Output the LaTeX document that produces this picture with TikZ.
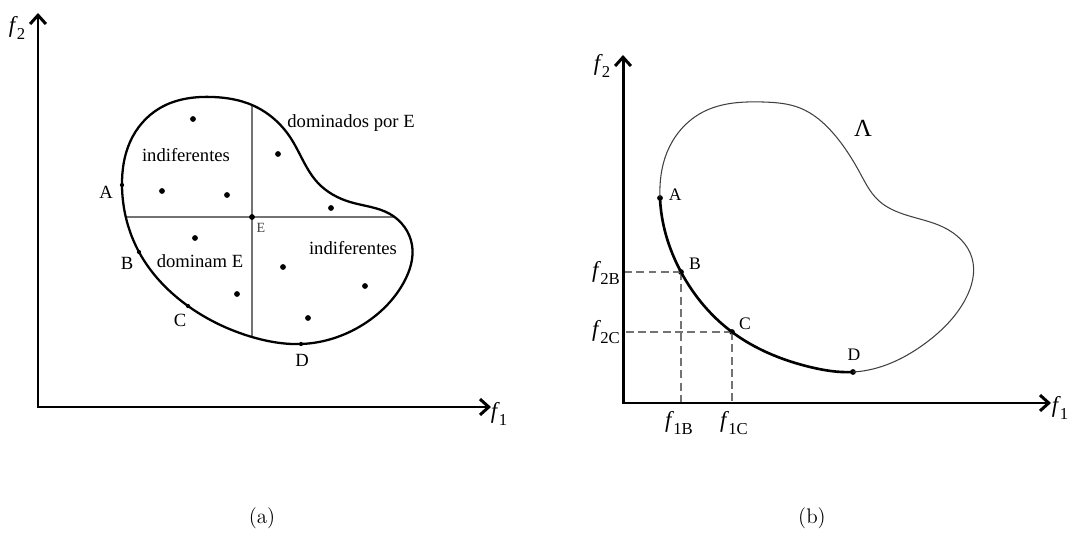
\documentclass[tikz,border=0pt]{standalone}
\usepackage{fontspec}
\newfontfamily\figfont{Liberation Serif}
\usetikzlibrary{positioning,arrows.meta,hobby}

% italic f with an upright index
\newcommand{\fv}[1]{\textit{f}\kern-0.04em\raisebox{-0.6ex}{\fontsize{9.5}{11}\selectfont #1}}

\begin{document}
\begin{tikzpicture}[
	x=0.02cm, y=-0.02cm,
	font=\figfont\fontsize{10.6}{12.5}\selectfont,
	axis/.style={
		line width=1.7pt,
		line join=miter,
		{Straight Barb[length=5pt,width=9pt]}-{Straight Barb[length=5pt,width=9pt]}
	},
	region/.style={line width=1.3pt},
	lambdaset/.style={draw=black!75, line width=0.6pt},
	front/.style={line width=1.5pt},
	divider/.style={draw=black!55, line width=0.7pt},
	guide/.style={draw=black!55, line width=0.7pt, dash pattern=on 4.5pt off 2.5pt},
	dot/.style={circle, fill=black, inner sep=0pt, minimum size=3.3pt},
	ptlabel/.style={inner sep=1pt},
	axlabel/.style={inner sep=0pt, font=\figfont\fontsize{13}{15}\selectfont},
	caption/.style={font=\rmfamily\fontsize{12}{14}\selectfont}
	]
	
	\useasboundingbox (0,0) rectangle (1072,547);
	
	%% (a)
	\def\regionA{plot[closed hobby] coordinates {
		(213,97) (160,108) (130,142) (122,185) (139,252) (188,306) (252,337)
		(301,344) (367,322) (404,282) (412,245) (390,214) (350,202) (318,183)
		(290,137) (252,105)}}
	
	\coordinate (oa) at (38,407);
	\coordinate (ya) at (38,13);
	\coordinate (xa) at (491,407);
	\draw[axis] (ya) -- (oa) -- (xa);
	\node[axlabel] (f2a) at (17,28) {\fv{2}};
	\node[axlabel] (f1a) at (499,414) {\fv{1}};
	
	\coordinate (E) at (252,217);
	\begin{scope}
		\clip \regionA;
		\draw[divider] (E) -- +(-160,0);
		\draw[divider] (E) -- +(190,0);
		\draw[divider] (E) -- +(0,-140);
		\draw[divider] (E) -- +(0,150);
	\end{scope}
	\draw[region] \regionA;
	\node[dot] (Edot) at (E) {};
	
	\foreach \x/\y [count=\i] in {193/119, 162/191, 227/195, 278/154, 331/208,
		195/238, 283/267, 237/294, 365/286, 308/318}
	\node[dot] (sol\i) at (\x,\y) {};
	
	\node[dot, minimum size=2.4pt] (Aa) at (122,185) {};
	\node[dot, minimum size=2.4pt] (Ba) at (139,252) {};
	\node[dot, minimum size=2.4pt] (Ca) at (188,306) {};
	\node[dot, minimum size=2.4pt] (Da) at (301,344) {};
	
	\node[ptlabel] (lAa) at (106,192) {A};
	\node[ptlabel] (lBa) at (127,263) {B};
	\node[ptlabel] (lCa) at (180,320) {C};
	\node[ptlabel] (lDa) at (302,360) {D};
	\node[ptlabel, font=\figfont\fontsize{8}{9}\selectfont, text=black!75] (lE) at (261,228) {E};
	
	\node (indifTL) at (186,155) {indiferentes};
	\node (domby) at (351,123) {dominados por E};
	\node (indifBR) at (353,248) {indiferentes};
	\node (domE) at (200,261) {dominam E};
	
	%% (b)
	\def\regionB{plot[closed hobby] coordinates {
		(763,102) (703,112) (668,150) (660,198) (681,272) (732,332) (810,367)
		(853,372) (927,342) (965,300) (972,258) (943,227) (903,214) (878,200)
		(860,173) (833,133) (800,108)}}
	
	\coordinate (ob) at (623,403);
	\coordinate (yb) at (623,55);
	\coordinate (xb) at (1051,403);
	
	\node[dot] (Ab) at (660,198) {};
	\node[dot] (Bb) at (681,272) {};
	\node[dot] (Cb) at (732,332) {};
	\node[dot] (Db) at (853,372) {};
	
	\draw[guide] (Bb.center) -- (Bb.center -| ob);
	\draw[guide] (Cb.center) -- (Cb.center -| ob);
	\draw[guide] (Bb.center) -- (Bb.center |- ob);
	\draw[guide] (Cb.center) -- (Cb.center |- ob);
	
	\draw[lambdaset] \regionB;
	\begin{scope}
		\clip (630,198) rectangle (853,400);
		\draw[front] \regionB;
	\end{scope}
	
	\draw[axis] (yb) -- (ob) -- (xb);
	\node[axlabel] (f2b) at (602,66) {\fv{2}};
	\node[axlabel] (f1b) at (1060,408) {\fv{1}};
	
	\node[axlabel] (f2B) at (606,273) {\fv{2B}};
	\node[axlabel] (f2C) at (606,332) {\fv{2C}};
	\node[axlabel] (f1B) at (679,423) {\fv{1B}};
	\node[axlabel] (f1C) at (734,423) {\fv{1C}};
	
	\node[ptlabel, font=\figfont\fontsize{10}{12}\selectfont, right=2pt of Ab, yshift=2pt] (lAb) {A};
	\node[ptlabel, font=\figfont\fontsize{10}{12}\selectfont] (lBb) at (695,264) {B};
	\node[ptlabel, font=\figfont\fontsize{10}{12}\selectfont] (lCb) at (745,324) {C};
	\node[ptlabel, font=\figfont\fontsize{10}{12}\selectfont] (lDb) at (854,355) {D};
	
	\node[font=\figfont\fontsize{14}{16}\selectfont] (lambda) at (863,128) {Λ};
	
	%% captions
	\node[caption] (capa) at (262,518) {(a)};
	\node[caption] (capb) at (812,518) {(b)};
\end{tikzpicture}
\end{document}
